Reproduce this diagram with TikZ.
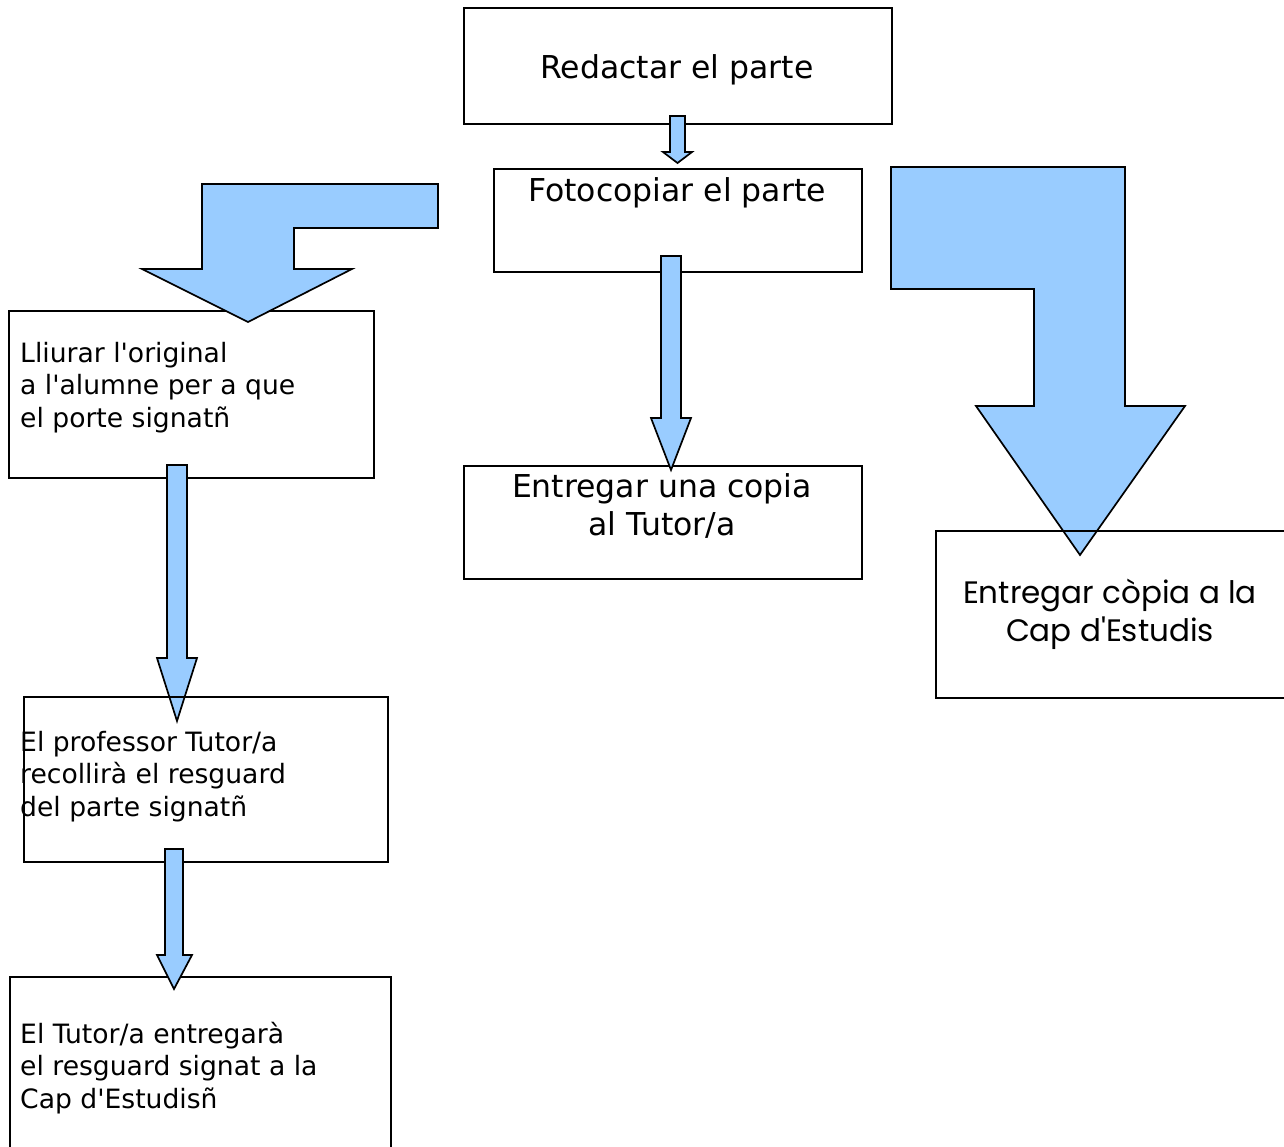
\documentclass[tikz,border=0pt]{standalone}
\usepackage{fontspec}
\setmainfont{DejaVu Sans}[Ligatures=TeXOff]
\newfontfamily\gothic{Poppins}[Ligatures=TeXOff]
\definecolor{arrowblue}{HTML}{99CCFF}
\begin{document}
\begin{tikzpicture}[x=1pt,y=-1pt,
  box/.style={draw=black, line width=1.9pt, inner sep=0pt, anchor=north west},
  barrow/.style={fill=arrowblue, draw=black, line width=1.7pt, line join=miter},
  bigtxt/.style={font=\fontsize{31.5}{38}\selectfont, inner sep=0pt, anchor=base},
  smalltxt/.style={font=\fontsize{26.6}{32.5}\selectfont, inner sep=0pt, anchor=base west},
  gotxt/.style={font=\gothic\fontsize{31}{38}\selectfont, inner sep=0pt, anchor=base}]
\useasboundingbox (0,0) rectangle (1284,1146);
% boxes behind arrows
\node[box, minimum width=428pt, minimum height=116pt] (redactar) at (463,7) {};
\node[box, minimum width=368pt, minimum height=103pt] (foto) at (493,168) {};
\node[box, minimum width=365pt, minimum height=167pt] (lliurar) at (8,310) {};
\node[box, minimum width=398pt, minimum height=113pt] (copia) at (463,465) {};
\node[bigtxt] (tred) at (677,78) {Redactar el parte};
\node[bigtxt] (tfoto) at (677,201) {Fotocopiar el parte};
\node[bigtxt] (tcop1) at (662,497) {Entregar una copia};
\node[bigtxt] (tcop2) at (662,535) {al Tutor/a};
\node[smalltxt] (tll1) at (20,362) {Lliurar l'original};
\node[smalltxt] (tll2) at (20,394.5) {a l'alumne per a que};
\node[smalltxt] (tll3) at (20,427) {el porte signatñ};
% arrows
\draw[barrow] (670,116) -- (685,116) -- (685,152) -- (692,152) -- (677.5,163) -- (663,152) -- (670,152) -- cycle;
\draw[barrow] (661,256) -- (681,256) -- (681,418) -- (691,418) -- (671,470) -- (651,418) -- (661,418) -- cycle;
\draw[barrow] (438,184) -- (202,184) -- (202,269) -- (142,269) -- (248,322) -- (352,269) -- (294,269) -- (294,228) -- (438,228) -- cycle;
\draw[barrow] (167,465) -- (187,465) -- (187,658) -- (197,658) -- (177,721) -- (157,658) -- (167,658) -- cycle;
\draw[barrow] (891,167) -- (1125,167) -- (1125,406) -- (1185,406) -- (1080,555) -- (976,406) -- (1034,406) -- (1034,289) -- (891,289) -- cycle;
% boxes in front
\node[box, minimum width=364pt, minimum height=165pt] (prof) at (23,696) {};
\node[box, minimum width=381pt, minimum height=180pt] (tutor) at (9,976) {};
\node[box, minimum width=360pt, minimum height=167pt] (cap) at (935,530) {};
\draw[barrow] (165,849) -- (183,849) -- (183,955) -- (192,955) -- (174,989) -- (157,955) -- (165,955) -- cycle;
\node[smalltxt] (tpr1) at (20,751) {El professor Tutor/a};
\node[smalltxt] (tpr2) at (20,783.5) {recollirà el resguard};
\node[smalltxt] (tpr3) at (20,816) {del parte signatñ};
\node[smalltxt] (ttu1) at (20,1043) {El Tutor/a entregarà};
\node[smalltxt] (ttu2) at (20,1075.5) {el resguard signat a la};
\node[smalltxt] (ttu3) at (20,1108) {Cap d'Estudisñ};
\node[gotxt] (tcap1) at (1110,603) {Entregar còpia a la};
\node[gotxt] (tcap2) at (1110,641) {Cap d'Estudis};
\end{tikzpicture}
\end{document}
